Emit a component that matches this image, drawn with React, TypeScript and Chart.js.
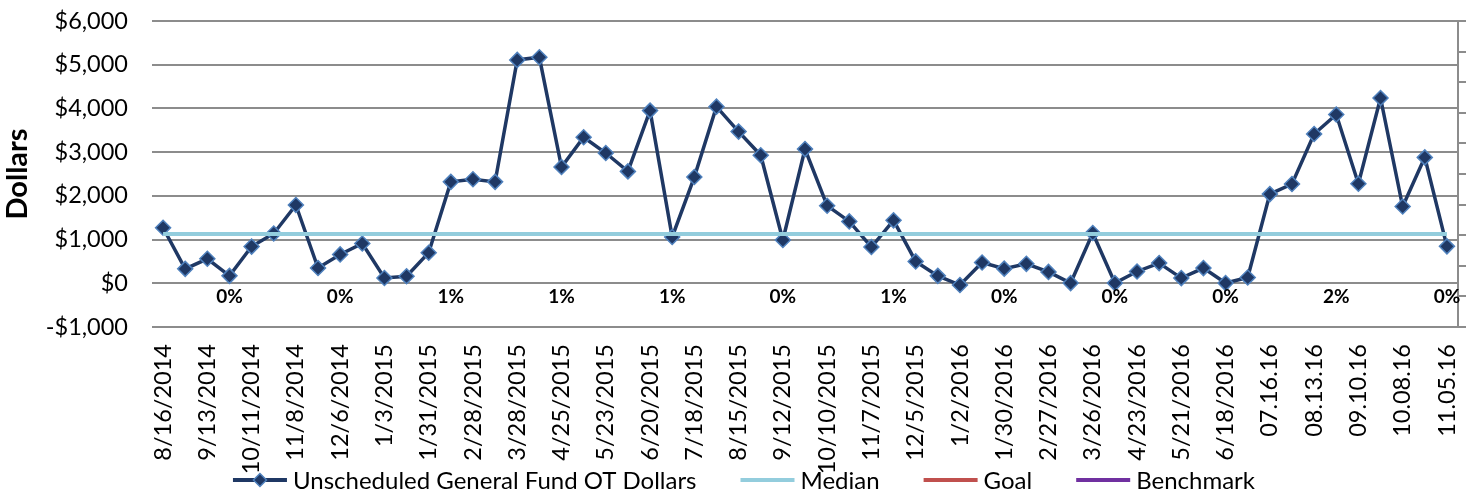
import React, { useEffect, useRef } from 'react';
import { Chart, registerables } from 'chart.js';

Chart.register(...registerables);

// ---- Data ----
const tickLabels = [
  '8/16/2014', '9/13/2014', '10/11/2014', '11/8/2014', '12/6/2014', '1/3/2015',
  '1/31/2015', '2/28/2015', '3/28/2015', '4/25/2015', '5/23/2015', '6/20/2015',
  '7/18/2015', '8/15/2015', '9/12/2015', '10/10/2015', '11/7/2015', '12/5/2015',
  '1/2/2016', '1/30/2016', '2/27/2016', '3/26/2016', '4/23/2016', '5/21/2016',
  '6/18/2016', '07.16.16', '08.13.16', '09.10.16', '10.08.16', '11.05.16',
];

const otDollars = [
  1270, 330, 560, 170, 840, 1140, 1790, 350, 660, 910,
  120, 160, 700, 2320, 2380, 2320, 5110, 5170, 2660, 3340,
  2980, 2560, 3950, 1060, 2430, 4040, 3470, 2930, 990, 3070,
  1775, 1415, 830, 1440, 500, 170, -40, 475, 335, 445,
  260, 5, 1150, 5, 270, 462, 119, 348, 5, 133,
  2040, 2270, 3414, 3860, 2277, 4238, 1757, 2880, 845,
];

const medianValue = 1125;

const pctIndex = [3, 8, 13, 18, 23, 28, 33, 38, 43, 48, 53, 58];
const pctLabels = ['0%', '0%', '1%', '1%', '1%', '0%', '1%', '0%', '0%', '0%', '2%', '0%'];

const seriesNames = ['Unscheduled General Fund OT Dollars', 'Median', 'Goal', 'Benchmark'];

// ---- Styles ----
const NAVY = '#1F3864';
const MARKER_BORDER = '#4F81BD';
const MEDIAN = '#93CDDD';
const GOAL = '#C0504D';
const BENCH = '#7030A0';
const GRID = '#8c8c8c';
const FONT = 'Lato';

const categories = otDollars.map((_, i) => (i % 2 === 0 ? tickLabels[i / 2] : ''));
const pctData = otDollars.map((_, i) => (pctIndex.indexOf(i) >= 0 ? 1 : null));

const fmtDollar = (v: number) => {
  const abs = Math.abs(v).toLocaleString('en-US');
  return (v < 0 ? '-$' : '$') + abs;
};

const zeroPad = (s: any) => {
  s.paddingLeft = 0;
  s.paddingRight = 0;
  s.paddingTop = 0;
  s.paddingBottom = 0;
};

const pctLabelPlugin = {
  id: 'pctLabelPlugin',
  afterDatasetsDraw(chart: any) {
    const meta = chart.getDatasetMeta(4);
    const ctx = chart.ctx;
    ctx.save();
    ctx.font = `bold 19px ${FONT}`;
    ctx.fillStyle = '#000';
    ctx.textAlign = 'center';
    ctx.textBaseline = 'middle';
    pctIndex.forEach((idx, k) => {
      const pt = meta.data[idx];
      if (pt) ctx.fillText(pctLabels[k], pt.x, pt.y);
    });
    ctx.restore();
  },
};

const legendPlugin = {
  id: 'customLegend',
  afterDraw(chart: any) {
    const ctx = chart.ctx;
    const colors = [NAVY, MEDIAN, GOAL, BENCH];
    const lineLen = 54;
    const gapText = 6;
    const gapItem = 44;
    const y = 480;
    ctx.save();
    ctx.font = `24px ${FONT}`;
    const widths = seriesNames.map((n) => ctx.measureText(n).width);
    const total = widths.reduce((a, w) => a + lineLen + gapText + w, 0) + gapItem * (seriesNames.length - 1);
    let x = 744 - total / 2;
    seriesNames.forEach((name, i) => {
      ctx.strokeStyle = colors[i];
      ctx.lineWidth = 4;
      ctx.beginPath();
      ctx.moveTo(x, y);
      ctx.lineTo(x + lineLen, y);
      ctx.stroke();
      if (i === 0) {
        const cx = x + lineLen / 2;
        const r = 6.5;
        ctx.beginPath();
        ctx.moveTo(cx - r, y);
        ctx.lineTo(cx, y - r);
        ctx.lineTo(cx + r, y);
        ctx.lineTo(cx, y + r);
        ctx.closePath();
        ctx.fillStyle = NAVY;
        ctx.fill();
        ctx.lineWidth = 1.5;
        ctx.strokeStyle = MARKER_BORDER;
        ctx.stroke();
      }
      ctx.fillStyle = '#000';
      ctx.textAlign = 'left';
      ctx.textBaseline = 'middle';
      ctx.fillText(name, x + lineLen + gapText, y + 1);
      x += lineLen + gapText + widths[i] + gapItem;
    });
    ctx.restore();
  },
};

export default function App() {
  const canvasRef = useRef<HTMLCanvasElement | null>(null);

  useEffect(() => {
    if (!canvasRef.current) return;
    Chart.defaults.font.family = FONT;
    const chart = new Chart(canvasRef.current, {
      type: 'line',
      data: {
        labels: categories,
        datasets: [
          {
            label: seriesNames[0],
            data: otDollars,
            borderColor: NAVY,
            backgroundColor: NAVY,
            borderWidth: 3.5,
            pointStyle: 'rectRot',
            pointRadius: 7.5,
            pointBackgroundColor: NAVY,
            pointBorderColor: MARKER_BORDER,
            pointBorderWidth: 1.5,
            tension: 0,
            yAxisID: 'y',
            order: 2,
          },
          {
            label: seriesNames[1],
            data: otDollars.map(() => medianValue),
            borderColor: MEDIAN,
            borderWidth: 4,
            pointRadius: 0,
            yAxisID: 'y',
            order: 1,
          },
          {
            label: seriesNames[2],
            data: [],
            borderColor: GOAL,
            borderWidth: 4,
            pointRadius: 0,
            yAxisID: 'y',
          },
          {
            label: seriesNames[3],
            data: [],
            borderColor: BENCH,
            borderWidth: 4,
            pointRadius: 0,
            yAxisID: 'y',
          },
          {
            label: 'pct',
            data: pctData as any,
            showLine: false,
            pointRadius: 0,
            borderWidth: 0,
            yAxisID: 'y2',
          },
        ],
      },
      options: {
        animation: false,
        responsive: false,
        maintainAspectRatio: false,
        layout: { padding: { top: 21, left: 0, right: 0, bottom: 0 } },
        plugins: {
          legend: { display: false },
          tooltip: { enabled: false },
        },
        scales: {
          x: {
            offset: true,
            grid: { display: false, drawTicks: false },
            border: { display: false },
            ticks: {
              autoSkip: false,
              maxRotation: 90,
              minRotation: 90,
              padding: 17,
              color: '#000',
              font: { size: 23.5, family: FONT },
            },
            afterFit: (s: any) => {
              s.height = 167;
              zeroPad(s);
            },
          },
          y: {
            min: -1000,
            max: 6000,
            grid: { color: GRID, lineWidth: 2, drawTicks: false },
            border: { display: false },
            ticks: {
              stepSize: 1000,
              padding: 24,
              color: '#000',
              font: { size: 23.5, family: FONT },
              callback: (v: any) => fmtDollar(Number(v)),
            },
            title: {
              display: true,
              text: 'Dollars',
              color: '#000',
              font: { size: 29, weight: 'bold', family: FONT },
              padding: { top: 0, bottom: 0 },
            },
            afterFit: (s: any) => {
              s.width = 152;
              zeroPad(s);
            },
          },
          y2: {
            position: 'right',
            min: 0,
            max: 10,
            grid: { drawOnChartArea: false, drawTicks: true, tickLength: 8, color: GRID, lineWidth: 2 },
            border: { display: true, color: GRID, width: 2 },
            ticks: { display: false, stepSize: 1 },
            afterFit: (s: any) => {
              s.width = 16;
              zeroPad(s);
            },
          },
        },
      },
      plugins: [pctLabelPlugin, legendPlugin],
    } as any);
    return () => chart.destroy();
  }, []);

  return (
    <div style={{ position: 'fixed', left: 0, top: 0, width: 1474, height: 494, background: '#fff' }}>
      <canvas ref={canvasRef} width={1474} height={494} style={{ width: 1474, height: 494, display: 'block' }} />
    </div>
  );
}
